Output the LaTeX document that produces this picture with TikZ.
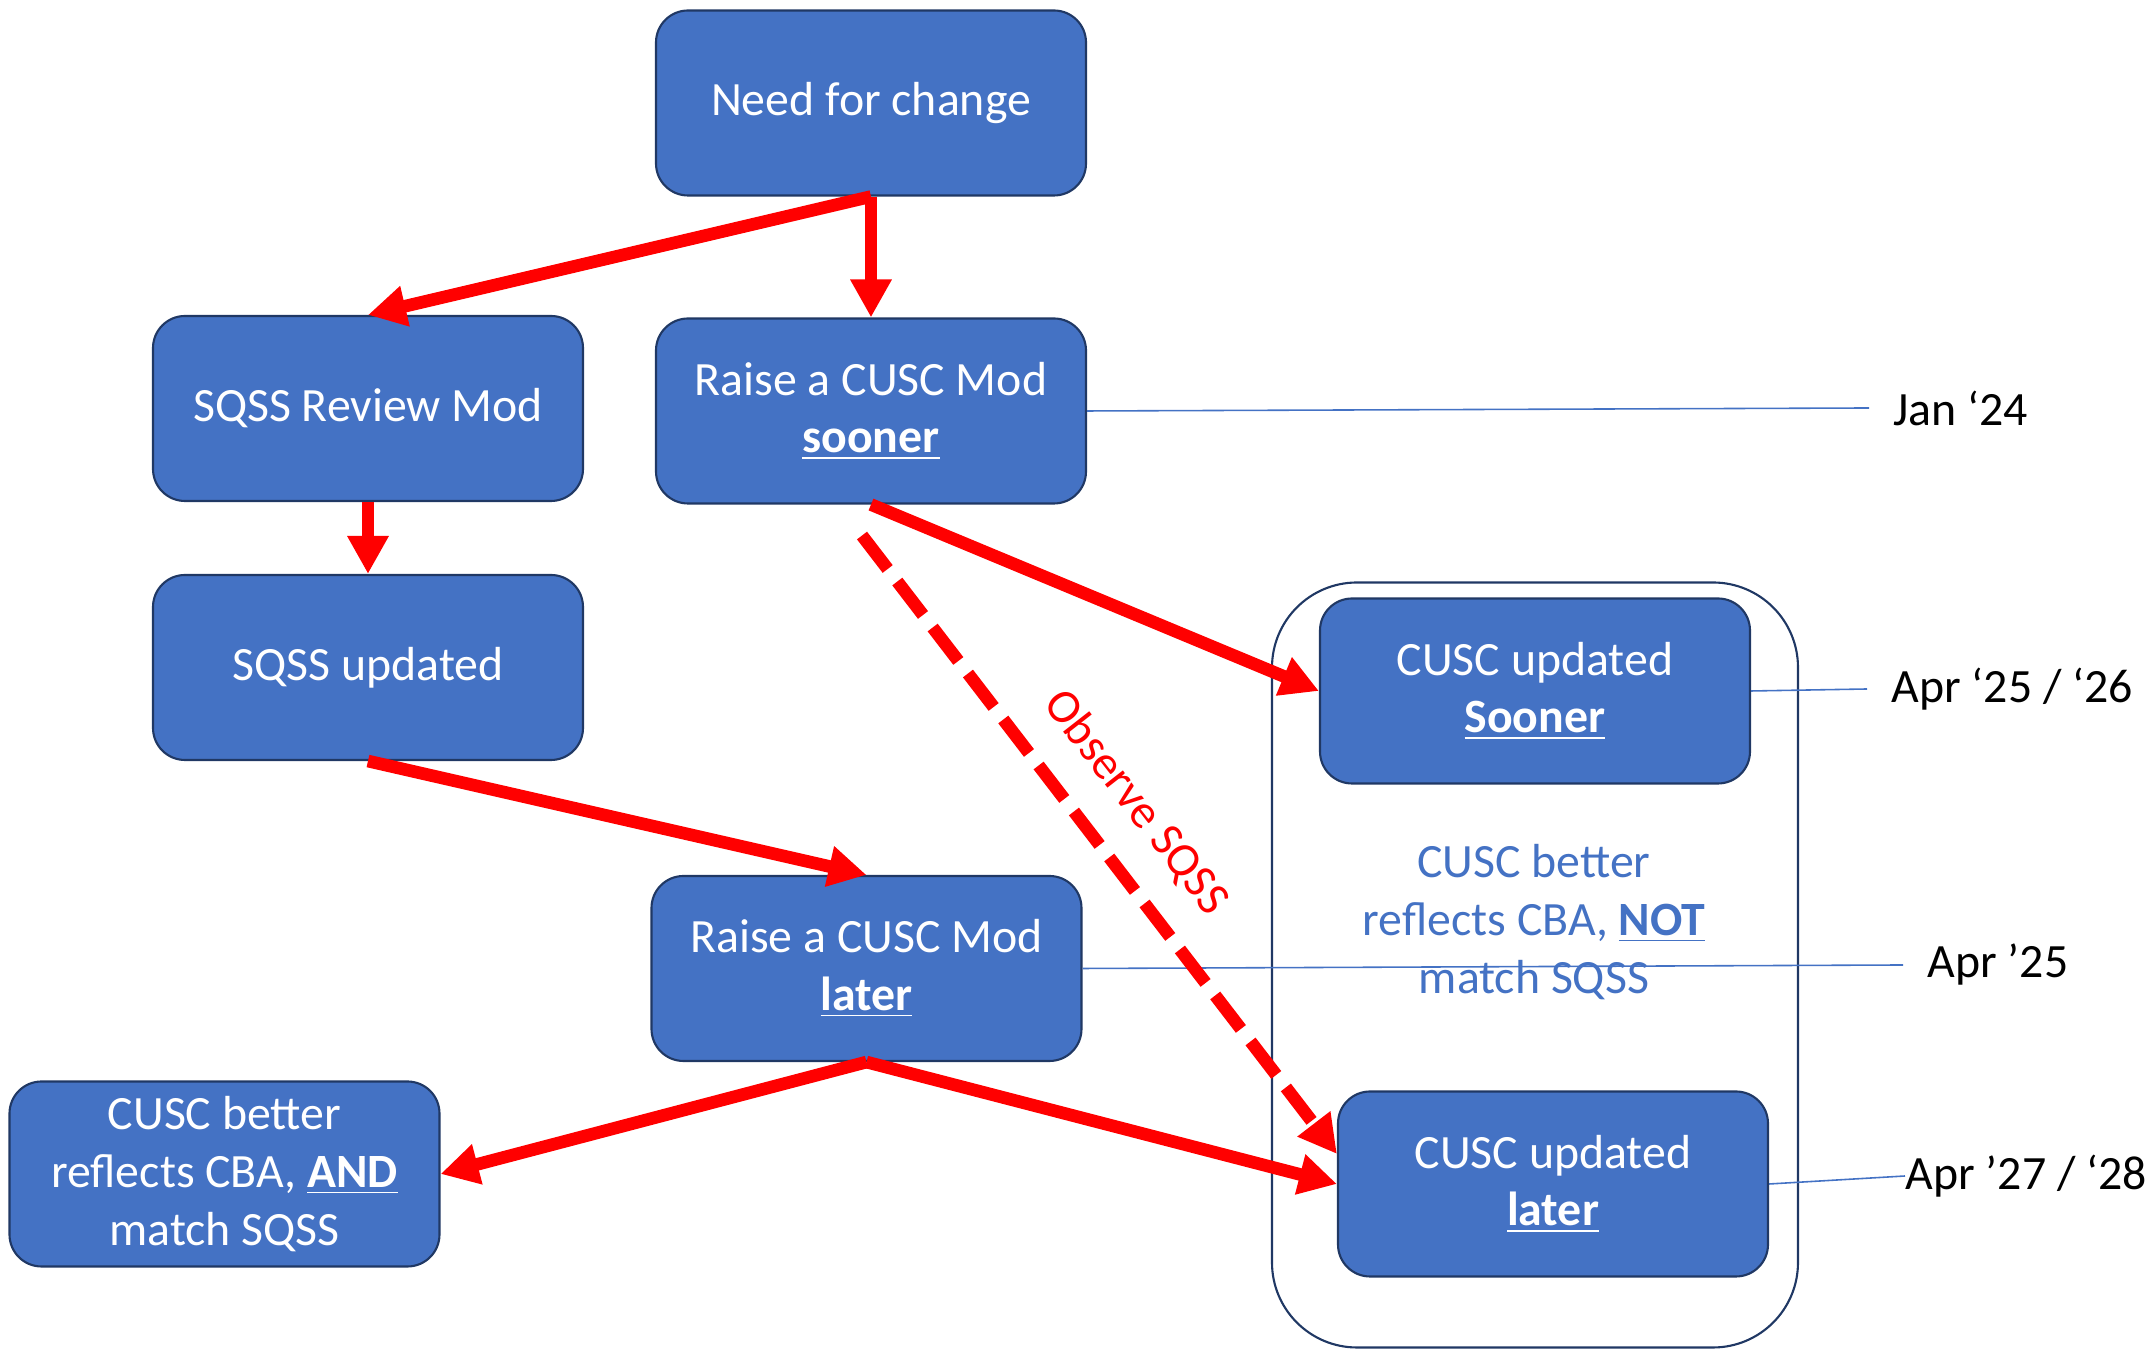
\documentclass[tikz,border=0pt]{standalone}
\usepackage{fontspec}
\setmainfont{Carlito}
\usepackage{tikz}
\usepackage{xcolor}
\usetikzlibrary{arrows.meta}
\definecolor{boxblue}{HTML}{4472C4}
\definecolor{boxedge}{HTML}{203864}

\begin{document}
\begin{tikzpicture}[
    box/.style={rectangle, rounded corners=0.32cm, fill=boxblue, draw=boxedge, line width=0.6pt, text=white, align=center, minimum width=4.3cm, minimum height=1.85cm, font=\fontsize{13.6}{16.4}\selectfont},
    flow/.style={draw=red, line width=3.6pt, -{Triangle[length=0.38cm,width=0.39cm]}},
    tick/.style={draw=boxblue, line width=0.45pt},
    date/.style={anchor=west, inner xsep=0.24cm, font=\fontsize{13.6}{16.4}\selectfont}
]
    \useasboundingbox (0,0) rectangle (21.52,13.51);
    \node [draw=boxedge, line width=0.6pt, rounded corners=0.85cm, minimum width=5.26cm, minimum height=7.65cm] (grp) at (15.35,3.86) {};
    \node [box] (need) at (8.71,12.48) {Need for change};
    \node [box] (review) at (3.68,9.425) {SQSS Review Mod};
    \node [box] (soon) at (8.71,9.40) {Raise a CUSC Mod\\\underline{\textbf{sooner}}};
    \node [box] (sqssup) at (3.68,6.835) {SQSS updated};
    \node [box] (late) at (8.665,3.825) {Raise a CUSC Mod\\\underline{\textbf{later}}};
    \node [box] (both) at (2.245,1.77) {CUSC better\\reflects CBA, \underline{\textbf{AND}}\\match SQSS};
    \node [box] (updsoon) at (15.35,6.60) {CUSC updated\\\underline{\textbf{Sooner}}};
    \node [box] (updlate) at (15.53,1.67) {CUSC updated\\\underline{\textbf{later}}};
    \node [text=boxblue, align=center, font=\fontsize{13.6}{16.4}\selectfont] (note) at (15.34,4.29) {CUSC better\\reflects CBA, \underline{\textbf{NOT}}\\match SQSS};
    \node [date] (jan) at (18.69,9.43) {Jan ‘24};
    \node [date] (a2526) at (18.67,6.62) {Apr ‘25 / ‘26};
    \node [date] (a25) at (19.03,3.86) {Apr ’25};
    \node [date, inner xsep=0pt] (a2728) at (19.05,1.75) {Apr ’27 / ‘28};
    \draw [tick] (soon.east) -- (jan.west);
    \draw [tick] (updsoon.east) -- (a2526.west);
    \draw [tick] (late.east) -- (a25.west);
    \draw [tick] (updlate.east) -- (a2728.west);
    \draw [flow] (need.south) -- (review.north);
    \draw [flow] (need.south) -- (soon.north);
    \draw [flow] (review.south) -- (sqssup.north);
    \draw [flow] (sqssup.south) -- (late.north);
    \draw [flow] (soon.south) -- (updsoon.west);
    \draw [flow, dash pattern=on 12pt off 4.5pt] ([xshift=-0.09cm,yshift=-0.31cm]soon.south) -- ([yshift=0.3cm]updlate.west);
    \draw [flow] (late.south) -- (both.east);
    \draw [flow] (late.south) -- (updlate.west);
    \node [text=red, rotate=-52, font=\fontsize{13.6}{16.4}\selectfont] (obs) at (11.36,5.48) {Observe SQSS};
\end{tikzpicture}
\end{document}
